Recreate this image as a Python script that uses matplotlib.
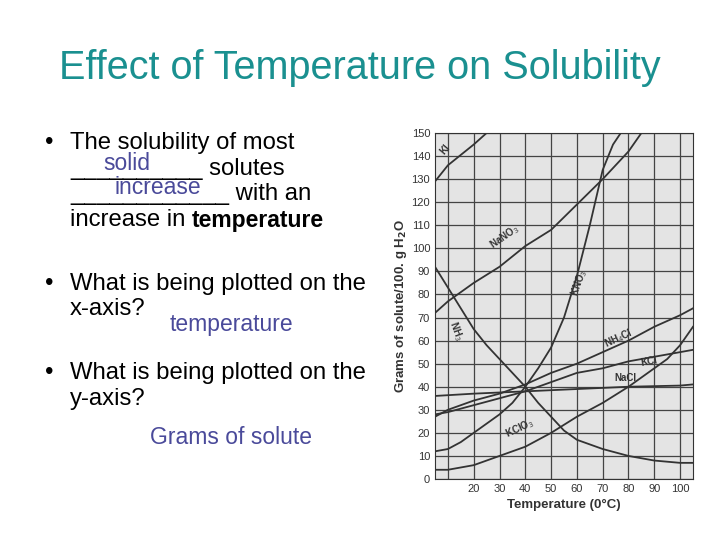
import matplotlib
matplotlib.use("Agg")
import matplotlib.pyplot as plt

plt.rcParams["font.family"] = ["Liberation Sans", "DejaVu Sans"]

# solubility curves, g solute per 100 g water
ki_t = [5, 10, 20, 25]
ki_g = [129, 136, 145, 150]
nano3_t = [5, 10, 15, 20, 30, 40, 50, 60, 70, 80, 85]
nano3_g = [72, 77, 81, 85, 92, 101, 108, 119, 130, 142, 150]
kno3_t = [5, 10, 15, 20, 25, 30, 35, 40, 45, 50, 55, 60, 65, 70, 74, 77]
kno3_g = [12, 13, 16, 20, 24, 28, 33, 40, 48, 57, 70, 88, 110, 134, 145, 150]
nh3_t = [5, 10, 15, 20, 25, 30, 35, 40, 45, 50, 55, 60, 70, 80, 90, 100, 105]
nh3_g = [92, 83, 74, 65, 58, 52, 46, 40, 33, 27, 21, 17, 13, 10, 8, 7, 7]
nh4cl_t = [5, 10, 20, 30, 40, 50, 60, 70, 80, 90, 100, 105]
nh4cl_g = [27, 30, 34, 37, 41, 46, 50, 55, 60, 66, 71, 74]
kcl_t = [5, 10, 20, 30, 40, 50, 60, 70, 80, 90, 100, 105]
kcl_g = [28, 29, 32, 35, 38, 42, 46, 48, 51, 53, 55, 56]
nacl_t = [5, 20, 40, 60, 80, 100, 105]
nacl_g = [36, 37, 38, 39, 40, 40.5, 41]
kclo3_t = [5, 10, 20, 30, 40, 50, 60, 70, 80, 90, 95, 100, 105]
kclo3_g = [4, 4, 6, 10, 14, 20, 27, 33, 40, 48, 52, 58, 66]

fig = plt.figure(figsize=(7.2, 5.4), dpi=100)
W, H = 720, 540

teal = "#1a9090"
blue = "#4a4a9a"

fig.text(360 / W, 1 - 68 / H, "Effect of Temperature on Solubility",
         color=teal, fontsize=28.5, ha="center", va="center")

def t(x, y, s, **kw):
    kw.setdefault("fontsize", 17.2)
    kw.setdefault("va", "center")
    fig.text(x / W, 1 - y / H, s, **kw)

t(45, 143, "\u2022")
t(70, 143, "The solubility of most")
t(70, 169, "__________ solutes")
t(103, 163, "solid", color=blue, fontsize=16.5)
t(70, 194, "____________ with an")
t(115, 188, "increase", color=blue, fontsize=16.5)
t(70, 220, "increase in")
t(192, 220, "temperature", fontweight="bold", fontsize=16.5)
t(45, 284, "\u2022")
t(70, 284, "What is being plotted on the")
t(70, 309, "x-axis?")
t(170, 325, "temperature", color=blue, fontsize=16.5)
t(45, 373, "\u2022")
t(70, 373, "What is being plotted on the")
t(70, 399, "y-axis?")
t(150, 438, "Grams of solute", color=blue, fontsize=16.5)

ax = fig.add_axes([435 / W, 1 - 479 / H, (693 - 435) / W, (479 - 133) / H])
ax.set_facecolor("#e4e4e4")
curves = [(ki_t, ki_g), (nano3_t, nano3_g), (kno3_t, kno3_g), (nh3_t, nh3_g),
          (nh4cl_t, nh4cl_g), (kcl_t, kcl_g), (nacl_t, nacl_g), (kclo3_t, kclo3_g)]
for xs, ys in curves:
    ax.plot(xs, ys, color="#333333", lw=1.3)
ax.set_xlim(5, 105)
ax.set_ylim(0, 150)
ax.set_xticks(range(10, 101, 10))
ax.set_xticklabels([""] + [str(v) for v in range(20, 101, 10)])
ax.set_yticks(range(0, 151, 10))
ax.grid(True, color="#444444", lw=0.9)
ax.tick_params(length=0, labelsize=8, colors="#333333")
for sp in ax.spines.values():
    sp.set_color("#333333")
ax.set_xlabel("Temperature (0\u00b0C)", fontsize=9.5, fontweight="bold", color="#333333")
ax.set_ylabel("Grams of solute/100. g H$_\\mathbf{2}$O", fontsize=9.5,
              fontweight="bold", color="#333333", labelpad=2)

labels = [(9, 143, "KI", 50), (32, 105, "NaNO$_3$", 35), (61, 85, "KNO$_3$", 70),
          (13, 64, "NH$_3$", -70), (76, 61, "NH$_4$Cl", 25), (88, 51, "KCl", 10),
          (79, 44, "NaCl", 0), (38, 22, "KClO$_3$", 25)]
for x, y, s, r in labels:
    ax.text(x, y, s, rotation=r, fontsize=7, fontweight="bold", color="#333333",
            ha="center", va="center")

fig.savefig("out.png", dpi=100)
